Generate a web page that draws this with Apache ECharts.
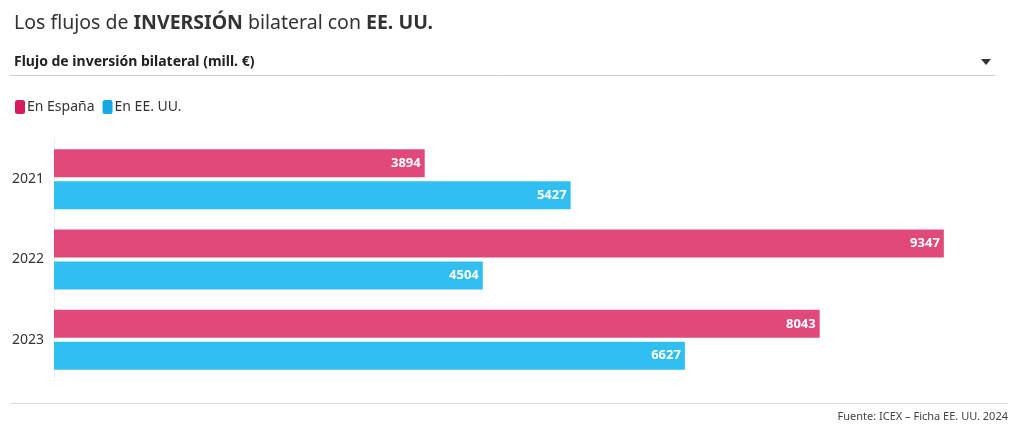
<!DOCTYPE html>
<html><head><meta charset="utf-8">
<script src="https://cdn.jsdelivr.net/npm/echarts@6/dist/echarts.min.js"></script>
<style>html,body{margin:0;padding:0;background:#fff}#c{width:1020px;height:435px}</style>
</head><body><div id="c"></div>
<script>
const categories = ['2021', '2022', '2023'];
const enEspana = [3894, 9347, 8043];
const enEEUU = [5427, 4504, 6627];
const seriesNames = ['En España', 'En EE. UU.'];
const FONT = '"Noto Sans", sans-serif';
const pink = '#E0497A', blue = '#31BEF0';
const chart = echarts.init(document.getElementById('c'), null, {renderer: 'canvas'});
const lbl = (c) => ({
  show: true, position: 'insideRight', distance: 4,
  color: '#fff', fontWeight: 'bold', fontSize: 13, fontFamily: FONT,
  textBorderColor: c, textBorderWidth: 3
});
chart.setOption({
  animation: false,
  textStyle: {fontFamily: FONT},
  title: {
    left: 9, top: 8,
    text: '{n|Los flujos de }{b|INVERSIÓN}{n| bilateral con }{b|EE. UU.}',
    textStyle: {fontWeight: 'normal', rich: {
      n: {fontSize: 19.5, color: '#333', fontWeight: 'normal', fontFamily: FONT},
      b: {fontSize: 19.5, color: '#333', fontWeight: 'bold', fontFamily: FONT}
    }}
  },
  legend: {
    left: 10, top: 95, itemWidth: 10, itemHeight: 14, itemGap: 8,
    icon: 'roundRect',
    textStyle: {fontSize: 14, color: '#333', fontFamily: FONT, padding: [0,0,0,-3]},
    data: [
      {name: seriesNames[0], itemStyle: {color: '#D81B5F'}},
      {name: seriesNames[1], itemStyle: {color: '#14A8E6'}}
    ]
  },
  graphic: [
    {type: 'text', left: 14, top: 55, style: {text: 'Flujo de inversión bilateral (mill. €)', font: 'bold 14px ' + FONT, fill: '#222'}},
    {type: 'line', shape: {x1: 10, y1: 75.5, x2: 995, y2: 75.5}, style: {stroke: '#ccc', lineWidth: 1}},
    {type: 'polygon', shape: {points: [[981, 59], [991, 59], [986, 65]]}, style: {fill: '#333'}},
    {type: 'line', shape: {x1: 10, y1: 403.5, x2: 1008, y2: 403.5}, style: {stroke: '#ddd', lineWidth: 1}},
    {type: 'text', right: 12, top: 411, style: {text: 'Fuente: ICEX – Ficha EE. UU. 2024', font: '11px ' + FONT, fill: '#444'}}
  ],
  grid: {left: 54, right: 14, top: 139, bottom: 55, containLabel: false},
  xAxis: {
    type: 'value', min: 0, max: 10000, show: false,
    splitLine: {show: false}
  },
  yAxis: {
    type: 'category', data: categories, inverse: true,
    axisLine: {show: true, lineStyle: {color: '#eee'}},
    axisTick: {show: false},
    axisLabel: {fontSize: 14, color: '#333', margin: 10, fontFamily: FONT}
  },
  series: [
    {name: seriesNames[0], type: 'bar', data: enEspana, barWidth: 28, barGap: '14%',
     itemStyle: {color: pink}, label: lbl(pink)},
    {name: seriesNames[1], type: 'bar', data: enEEUU, barWidth: 28, barGap: '14%',
     itemStyle: {color: blue}, label: lbl(blue)}
  ]
});
</script></body></html>
